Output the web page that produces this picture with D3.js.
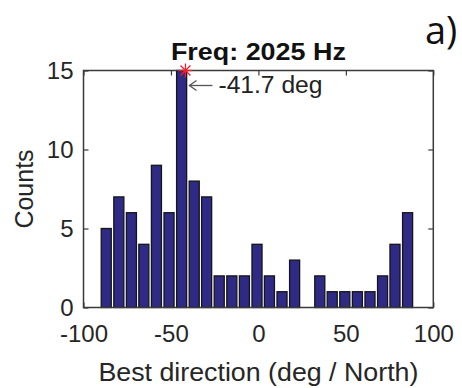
<!DOCTYPE html>
<html>
<head>
<meta charset="utf-8">
<script src="https://cdn.jsdelivr.net/npm/d3@7"></script>
<style>
  html, body { margin: 0; padding: 0; background: #fff; }
  svg { display: block; }
  text { font-family: "Liberation Sans", Arial, sans-serif; }
</style>
</head>
<body>
<svg id="chart" width="462" height="388"></svg>
<script>
// ---- data ----
const binCenters = [-87.0, -79.8, -72.6, -65.5, -58.3, -51.1, -43.9, -36.7, -29.6, -22.4, -15.2, -8.0, -0.8,
                    6.3, 13.5, 20.7, 27.9, 35.1, 42.2, 49.4, 56.6, 63.8, 71.0, 78.1, 85.3];
const counts = [5, 7, 6, 4, 9, 6, 15, 8, 7, 2, 2, 2, 4, 2, 1, 3, 0, 2, 1, 1, 1, 1, 2, 4, 6];
const binWidth = 7.18;
const xTicks = [-100, -50, 0, 50, 100];
const yTicks = [0, 5, 10, 15];
const peakDirection = -41.7;
const peakCount = 15;
const titleText = "Freq: 2025 Hz";
const xLabel = "Best direction (deg / North)";
const yLabel = "Counts";
const panelLabel = "a)";
const annotationText = "-41.7 deg";

// ---- layout ----
const svg = d3.select("#chart");
const mLeft = 83.5, mRight = 433.3, mTop = 70.5, mBottom = 307.5;
const x = d3.scaleLinear().domain([-100, 100]).range([mLeft, mRight]);
const y = d3.scaleLinear().domain([0, 15]).range([mBottom, mTop]);
const axisColor = "#3a3a3a";
const textColor = "#262626";
const fmt = d => String(d);

svg.append("rect").attr("width", 462).attr("height", 388).attr("fill", "#fff");

const bins = binCenters.map((c, i) => ({ c, n: counts[i] })).filter(d => d.n > 0);

// bars
svg.append("g").selectAll("rect").data(bins).join("rect")
  .attr("x", d => x(d.c - 0.4 * binWidth))
  .attr("width", d => x(d.c + 0.4 * binWidth) - x(d.c - 0.4 * binWidth))
  .attr("y", d => y(d.n))
  .attr("height", d => y(0) - y(d.n))
  .attr("fill", "#2f2a86")
  .attr("stroke", "#151515")
  .attr("stroke-width", 1.3);

// axes
function styleAxis(g) {
  g.select(".domain").remove();
  g.selectAll(".tick line").attr("stroke", axisColor).attr("stroke-width", 1.2);
  g.selectAll("text").attr("fill", textColor).style("font-size", "24px")
    .style("font-family", '"Liberation Sans", Arial, sans-serif');
}
svg.append("g").attr("transform", `translate(0,${mBottom})`)
  .call(d3.axisBottom(x).tickValues(xTicks).tickFormat(fmt).tickSizeInner(-5).tickSizeOuter(0).tickPadding(17.5))
  .call(styleAxis);
svg.append("g").attr("transform", `translate(0,${mTop})`)
  .call(d3.axisTop(x).tickValues(xTicks).tickSizeInner(-5).tickSizeOuter(0).tickFormat(""))
  .call(styleAxis);
svg.append("g").attr("transform", `translate(${mLeft},0)`)
  .call(d3.axisLeft(y).tickValues(yTicks).tickFormat(fmt).tickSizeInner(-5).tickSizeOuter(0).tickPadding(10))
  .call(styleAxis);
svg.append("g").attr("transform", `translate(${mRight},0)`)
  .call(d3.axisRight(y).tickValues(yTicks).tickSizeInner(-5).tickSizeOuter(0).tickFormat(""))
  .call(styleAxis);

// box
svg.append("rect")
  .attr("x", mLeft).attr("y", mTop)
  .attr("width", mRight - mLeft).attr("height", mBottom - mTop)
  .attr("fill", "none").attr("stroke", axisColor).attr("stroke-width", 1.5);

// peak marker (asterisk)
const px = x(peakDirection), py = y(peakCount), r = 7;
const star = svg.append("g").attr("stroke", "#f0202a").attr("stroke-width", 1.3);
[[r, 0], [0, r], [r * 0.707, r * 0.707], [r * 0.707, -r * 0.707]].forEach(([dx, dy]) => {
  star.append("line").attr("x1", px - dx).attr("y1", py - dy).attr("x2", px + dx).attr("y2", py + dy);
});

// annotation arrow + text
const ay = y(peakCount) + 15;
const ax0 = px + 4, ax1 = px + 27;
svg.append("line").attr("x1", ax0).attr("y1", ay).attr("x2", ax1).attr("y2", ay)
  .attr("stroke", "#555").attr("stroke-width", 1.3);
svg.append("polyline")
  .attr("points", `${ax0 + 7},${ay - 5} ${ax0},${ay} ${ax0 + 7},${ay + 5}`)
  .attr("fill", "none").attr("stroke", "#555").attr("stroke-width", 1.3);
svg.append("text").attr("x", px + 33).attr("y", ay + 7.5)
  .attr("fill", "#222").style("font-size", "23px")
  .attr("textLength", 104).attr("lengthAdjust", "spacingAndGlyphs").text(annotationText);

// title
svg.append("text").attr("x", (mLeft + mRight) / 2).attr("y", 60)
  .attr("text-anchor", "middle").attr("fill", "#111")
  .style("font-size", "24px").style("font-weight", "bold")
  .attr("textLength", 175).attr("lengthAdjust", "spacingAndGlyphs").text(titleText);

// axis labels
svg.append("text").attr("x", (mLeft + mRight) / 2).attr("y", 381)
  .attr("text-anchor", "middle").attr("fill", textColor)
  .style("font-size", "25px")
  .attr("textLength", 320).attr("lengthAdjust", "spacingAndGlyphs").text(xLabel);
svg.append("text")
  .attr("transform", `translate(33,${(mTop + mBottom) / 2}) rotate(-90)`)
  .attr("text-anchor", "middle").attr("fill", textColor)
  .style("font-size", "25px").text(yLabel);

// panel label
svg.append("text").attr("x", 425).attr("y", 44)
  .attr("fill", "#111").style("font-size", "38px")
  .style("font-family", '"Open Sans", "Liberation Sans", sans-serif').text(panelLabel);
</script>
</body>
</html>
